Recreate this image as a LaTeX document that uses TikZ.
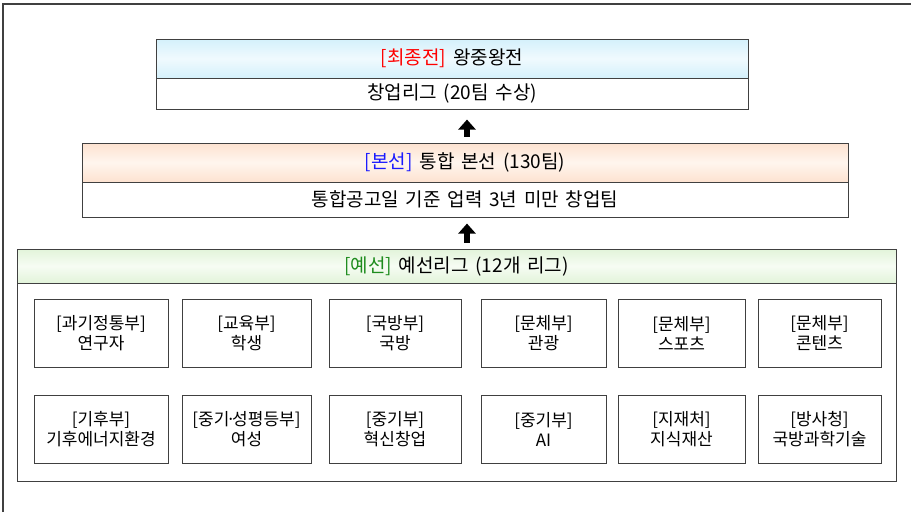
\documentclass[tikz,border=0pt]{standalone}
\usepackage{fontspec}
\setmainfont[WordSpace=1.6]{Noto Sans CJK KR}
\usetikzlibrary{arrows.meta}

\definecolor{framegray}{HTML}{404040}
\definecolor{finalred}{HTML}{FF0000}
\definecolor{mainblue}{HTML}{1A1AFF}
\definecolor{preggreen}{HTML}{1E8C1E}
\definecolor{bluetop}{HTML}{D4F0FB}
\definecolor{bluemid}{HTML}{F0FAFE}
\definecolor{peachtop}{HTML}{FDE2D0}
\definecolor{peachmid}{HTML}{FFF5EE}
\definecolor{greentop}{HTML}{E2F4DA}
\definecolor{greenmid}{HTML}{F6FCF3}

\begin{document}
\begin{tikzpicture}[x=1pt, y=-1pt, thick,
  box/.style = {draw=framegray, line width=0.9pt, inner sep=0pt, font=\fontsize{19}{22}\selectfont},
  league/.style = {draw=framegray, line width=0.9pt, inner sep=0pt, align=center,
    minimum height=68pt, font=\fontsize{17}{20}\selectfont},
  uparrow/.style = {line width=6pt, -{Triangle[width=17pt, length=10pt]}, shorten <=6pt}]
\useasboundingbox (0,0) rectangle (911,512);
% page edge
\draw[line width=1.8pt, framegray] (3,512) -- (3,4) -- (911,4);

% final round
\node[box, minimum width=592pt, minimum height=39pt, top color=bluetop,
  bottom color=bluetop, middle color=bluemid] (finalhead) at (452,58.5)
  {\textcolor{finalred}{[최종전]} 왕중왕전};
\node[box, minimum width=592pt, minimum height=31pt, fill=white] (finalbody) at (452,93.5)
  {창업리그 (20팀 수상)};

% main round
\node[box, minimum width=766pt, minimum height=39pt, top color=peachtop,
  bottom color=peachtop, middle color=peachmid] (mainhead) at (465,162.5)
  {\textcolor{mainblue}{[본선]} 통합 본선 (130팀)};
\node[box, minimum width=766pt, minimum height=35pt, fill=white] (mainbody) at (465,199.5)
  {통합공고일 기준 업력 3년 미만 창업팀};

% preliminary round
\node[box, minimum width=879pt, minimum height=34pt, top color=greentop,
  bottom color=greentop, middle color=greenmid] (prehead) at (456.5,266)
  {\textcolor{preggreen}{[예선]} 예선리그 (12개 리그)};
\node[box, minimum width=879pt, minimum height=198pt] (prebody) at (456.5,382) {};

\draw[uparrow] ([xshift=2pt]mainhead.north) -- ++(0,-23) coordinate (tipa);
\draw[uparrow] ([xshift=2pt]prehead.north -| mainhead.north) -- ++(0,-25) coordinate (tipb);

% leagues, first row
\node[league, minimum width=134pt] (l1) at (101,333) {[과기정통부]\\연구자};
\node[league, minimum width=129pt] (l2) at (246.5,333) {[교육부]\\학생};
\node[league, minimum width=132pt] (l3) at (395,333) {[국방부]\\국방};
\node[league, minimum width=125pt] (l4) at (543.5,333) {[문체부]\\관광};
\node[league, minimum width=127pt] (l5) at (681.5,333) {[문체부]\\스포츠};
\node[league, minimum width=123pt] (l6) at (819.5,333) {[문체부]\\콘텐츠};
% leagues, second row
\node[league, minimum width=134pt] (l7) at (101,429.5) {[기후부]\\기후에너지환경};
\node[league, minimum width=129pt] (l8) at (246.5,429.5) {[중기\kern-.2em·\kern-.2em성평등부]\\여성};
\node[league, minimum width=132pt] (l9) at (395,429.5) {[중기부]\\혁신창업};
\node[league, minimum width=125pt] (l10) at (543.5,429.5) {[중기부]\\AI};
\node[league, minimum width=127pt] (l11) at (681.5,429.5) {[지재처]\\지식재산};
\node[league, minimum width=123pt] (l12) at (819.5,429.5) {[방사청]\\국방과학기술};
\end{tikzpicture}
\end{document}
